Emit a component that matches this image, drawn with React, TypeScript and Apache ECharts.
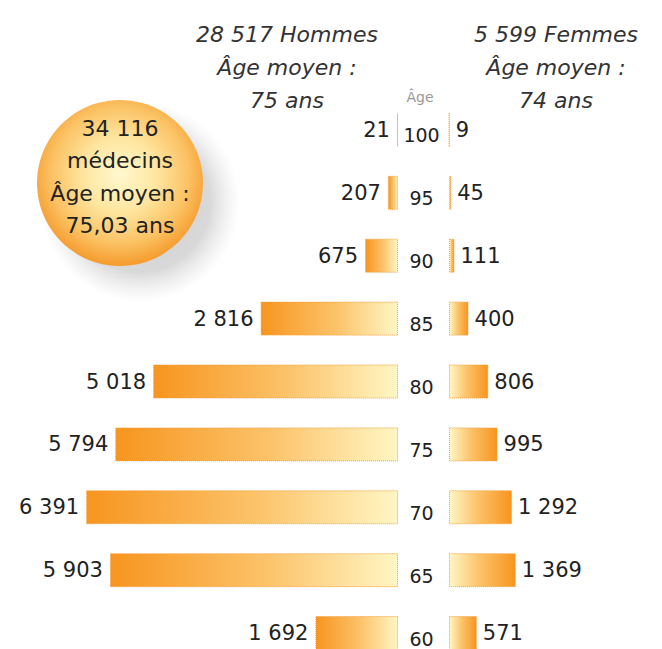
import React, { useEffect, useRef } from "react";
import * as echarts from "echarts";

const ages = ["100", "95", "90", "85", "80", "75", "70", "65", "60"];
const hommes = [21, 207, 675, 2816, 5018, 5794, 6391, 5903, 1692];
const femmes = [9, 45, 111, 400, 806, 995, 1292, 1369, 571];
const headerHommes = ["28 517 Hommes", "Âge moyen :", "75 ans"];
const headerFemmes = ["5 599 Femmes", "Âge moyen :", "74 ans"];
const bubbleLines = ["34 116", "médecins", "Âge moyen :", "75,03 ans"];

const FONT = '"DejaVu Sans", sans-serif';
const fmt = (v: number) => String(v).replace(/\B(?=(\d{3})+(?!\d))/g, " ");

export default function App() {
  const ref = useRef<HTMLDivElement>(null);
  useEffect(() => {
    if (!ref.current) return;
    const chart = echarts.init(ref.current, undefined, { renderer: "svg" });
    const dark = "#F7951F";
    const light = "#FFF6C4";
    const gradL = new echarts.graphic.LinearGradient(0, 0, 1, 0, [
      { offset: 0, color: dark },
      { offset: 0.55, color: "#FCC36A" },
      { offset: 1, color: light },
    ]);
    const gradR = new echarts.graphic.LinearGradient(0, 0, 1, 0, [
      { offset: 0, color: light },
      { offset: 0.45, color: "#FCC36A" },
      { offset: 1, color: dark },
    ]);
    const top = 98.5;
    const height = 566;
    const headerText = (lines: string[], cx: number) =>
      lines.map((t, i) => ({
        type: "text",
        x: cx,
        y: 34 + i * 33,
        style: {
          text: t,
          fill: "#333",
          fontSize: 22,
          fontStyle: "italic",
          fontFamily: FONT,
          align: "center",
          verticalAlign: "middle",
        },
      }));
    chart.setOption({
      animation: false,
      grid: [
        { left: 56.4, top, width: 341.6, height, outerBoundsMode: "none", containLabel: false },
        { left: 449, top, width: 195.2, height, outerBoundsMode: "none", containLabel: false },
      ],
      xAxis: [
        { type: "value", gridIndex: 0, min: 0, max: 7000, inverse: true, show: false },
        { type: "value", gridIndex: 1, min: 0, max: 4000, show: false },
      ],
      yAxis: [
        { type: "category", gridIndex: 0, data: ages, inverse: true, show: false },
        {
          type: "category",
          gridIndex: 1,
          data: ages,
          inverse: true,
          position: "left",
          axisLine: { show: false },
          axisTick: { show: false },
          splitLine: { show: false },
          axisLabel: {
            margin: 27.5,
            align: "center",
            verticalAlign: "middle",
            formatter: "{a|{value}}",
            rich: {
              a: {
                padding: [11, 0, 0, 0],
                fontSize: 19,
                fontFamily: FONT,
                color: "#222",
              },
            },
          },
        },
      ],
      series: [
        {
          type: "bar",
          xAxisIndex: 0,
          yAxisIndex: 0,
          data: hommes,
          barWidth: 34,
          itemStyle: { color: gradL, borderColor: "#F5A040", borderWidth: 1, borderType: "dotted" },
          label: {
            show: true,
            position: "left",
            distance: 7,
            formatter: (p: any) => fmt(p.value),
            fontSize: 21,
            fontFamily: FONT,
            color: "#222",
          },
        },
        {
          type: "bar",
          xAxisIndex: 1,
          yAxisIndex: 1,
          data: femmes,
          barWidth: 34,
          itemStyle: { color: gradR, borderColor: "#F5A040", borderWidth: 1, borderType: "dotted" },
          label: {
            show: true,
            position: "right",
            distance: 6,
            formatter: (p: any) => fmt(p.value),
            fontSize: 21,
            fontFamily: FONT,
            color: "#222",
          },
        },
      ],
      graphic: [
        {
          type: "circle",
          shape: { cx: 140, cy: 202, r: 100 },
          style: {
            fill: new echarts.graphic.RadialGradient(0.5, 0.5, 0.5, [
              { offset: 0, color: "rgba(160,160,160,0.55)" },
              { offset: 0.7, color: "rgba(170,170,170,0.45)" },
              { offset: 1, color: "rgba(200,200,200,0)" },
            ]),
          },
        },
        {
          type: "circle",
          shape: { cx: 120, cy: 183, r: 83 },
          style: {
            fill: new echarts.graphic.RadialGradient(0.5, 0.45, 0.55, [
              { offset: 0, color: "#FFF8CF" },
              { offset: 0.4, color: "#FEE6A0" },
              { offset: 0.75, color: "#FBC264" },
              { offset: 1, color: "#F59B2C" },
            ]),
          },
        },
        ...bubbleLines.map((t, i) => ({
          type: "text",
          x: 120,
          y: 128 + i * 32.5,
          style: {
            text: t,
            fill: "#222",
            fontSize: 22,
            fontFamily: FONT,
            align: "center",
            verticalAlign: "middle",
          },
        })),
        ...headerText(headerHommes, 287),
        ...headerText(headerFemmes, 556),
        {
          type: "text",
          x: 420,
          y: 97,
          style: {
            text: "Âge",
            fill: "#999",
            fontSize: 14,
            fontFamily: FONT,
            align: "center",
            verticalAlign: "middle",
          },
        },
      ],
    });
    return () => chart.dispose();
  }, []);
  return (
    <div
      ref={ref}
      style={{ position: "absolute", left: 0, top: 0, width: 662, height: 649, background: "#fff" }}
    />
  );
}
